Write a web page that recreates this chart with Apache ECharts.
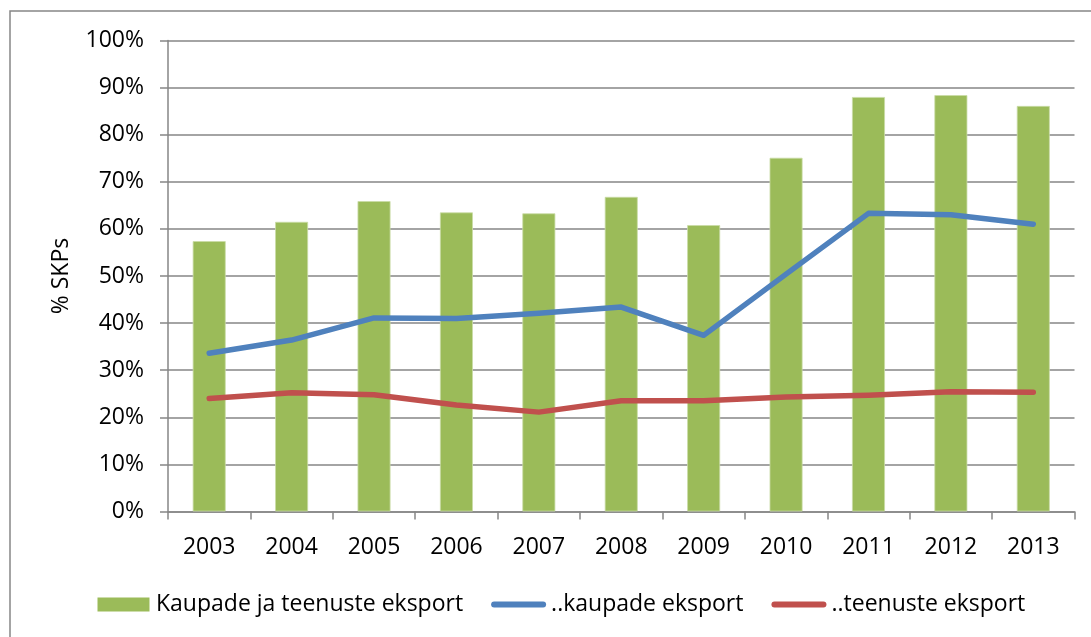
<!DOCTYPE html>
<html>
<head>
<meta charset="utf-8">
<script src="https://cdn.jsdelivr.net/npm/echarts@6/dist/echarts.min.js"></script>
<style>
html,body{margin:0;padding:0;background:#fff;}
#chart{width:1091px;height:637px;}
</style>
</head>
<body>
<div id="chart"></div>
<script>
const years = ['2003','2004','2005','2006','2007','2008','2009','2010','2011','2012','2013'];
const totalExport = [57.4, 61.5, 65.9, 63.5, 63.3, 66.8, 60.8, 75.1, 88.0, 88.4, 86.1];
const goodsExport = [33.6, 36.4, 41.1, 41.0, 42.1, 43.4, 37.4, 50.4, 63.3, 63.0, 61.0];
const servicesExport = [24.0, 25.2, 24.8, 22.6, 21.1, 23.5, 23.5, 24.3, 24.7, 25.4, 25.3];
const seriesNames = ['Kaupade ja teenuste eksport', '..kaupade eksport', '..teenuste eksport'];
const yAxisName = '% SKPs';

const FONT = 'Open Sans';
const FS = 23;
const rectIcon = 'path://M0,0M55,14M1.5,0h52v14h-52z';
const lineIcon = 'path://M0,0M55,14M3,4h49a3,3 0 0 1 0,6h-49a3,3 0 0 1 0,-6z';
const chart = echarts.init(document.getElementById('chart'), null, {renderer:'canvas'});
chart.setOption({
  animation: false,
  backgroundColor: '#fff',
  textStyle: {fontFamily: FONT},
  graphic: [{
    type: 'rect', shape: {x: 10, y: 11, width: 1100, height: 650},
    style: {fill: 'none', stroke: '#868686', lineWidth: 1.5}, silent: true, z: -1
  }],
  grid: {left: 168, right: 16.5, top: 40.5, bottom: 125.5, containLabel: false},
  legend: {
    top: 588, left: 91,
    itemWidth: 55, itemHeight: 14, itemGap: 28,
    textStyle: {fontFamily: FONT, fontSize: FS, color: '#000'},
    data: [
      {name: seriesNames[0], icon: rectIcon, itemStyle: {borderWidth: 0}},
      {name: seriesNames[1], icon: lineIcon, itemStyle: {borderWidth: 0}},
      {name: seriesNames[2], icon: lineIcon, itemStyle: {borderWidth: 0}}
    ]
  },
  xAxis: {
    type: 'category', data: years,
    axisLine: {lineStyle: {color: '#868686', width: 1.5}},
    axisTick: {show: true, length: 8, lineStyle: {color: '#868686', width: 1.5}},
    axisLabel: {color: '#000', fontSize: FS, fontFamily: FONT, margin: 24}
  },
  yAxis: {
    type: 'value', min: 0, max: 100, interval: 10,
    name: yAxisName, nameLocation: 'middle', nameGap: 95, nameRotate: 90,
    nameTextStyle: {color: '#000', fontSize: FS, fontFamily: FONT},
    axisLine: {show: true, lineStyle: {color: '#868686', width: 1.5}},
    axisTick: {show: true, length: 8, lineStyle: {color: '#868686', width: 1.5}},
    axisLabel: {color: '#000', fontSize: FS, fontFamily: FONT, margin: 24, formatter: '{value}%'},
    splitLine: {lineStyle: {color: '#868686', width: 1.5}}
  },
  series: [
    {name: seriesNames[0], type: 'bar', data: totalExport, barWidth: '40%',
     itemStyle: {color: '#9BBB59', borderColor: '#c9dca6', borderWidth: 0.8}},
    {name: seriesNames[1], type: 'line', data: goodsExport, symbol: 'none',
     lineStyle: {color: '#4F81BD', width: 5.5, cap: 'round', join: 'round'}, itemStyle: {color: '#4F81BD'}},
    {name: seriesNames[2], type: 'line', data: servicesExport, symbol: 'none',
     lineStyle: {color: '#C0504D', width: 5.5, cap: 'round', join: 'round'}, itemStyle: {color: '#C0504D'}}
  ]
});
</script>
</body>
</html>
